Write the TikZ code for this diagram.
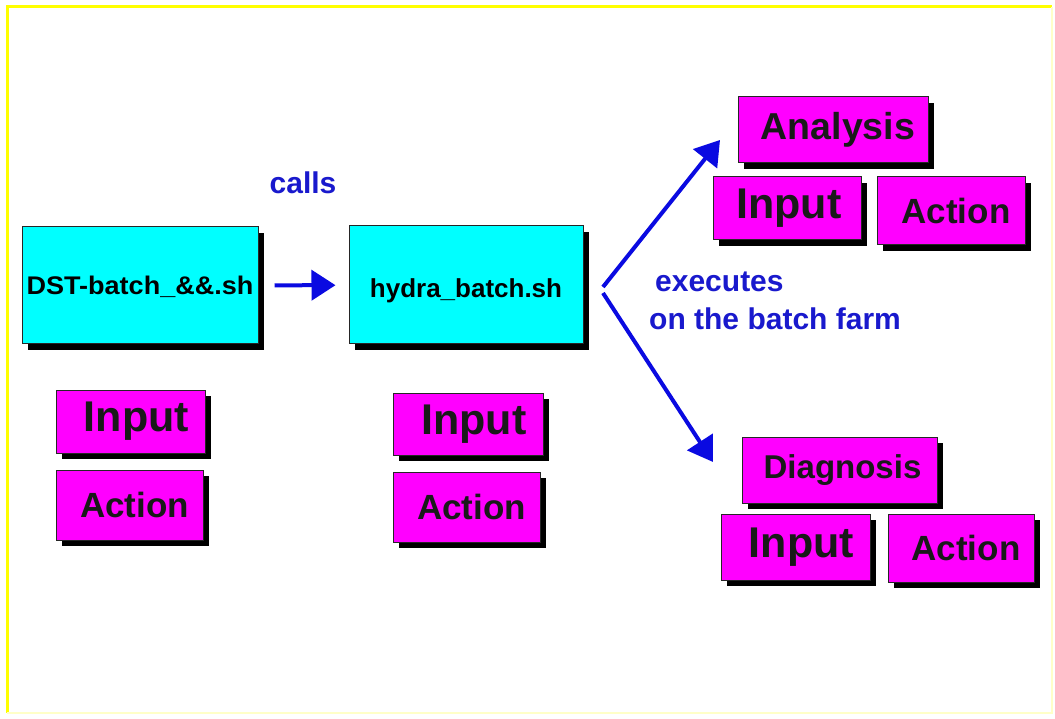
\documentclass[tikz,border=0pt]{standalone}
\usepackage{fontspec}
\setmainfont{Liberation Sans}
\usepackage{graphicx}
\usetikzlibrary{arrows.meta,shadows}
\definecolor{cyanbox}{RGB}{0,255,255}
\definecolor{magbox}{RGB}{255,0,255}
\definecolor{bluetxt}{RGB}{25,25,205}
\definecolor{bluearr}{RGB}{10,10,225}
\definecolor{ylw}{RGB}{255,255,0}
\definecolor{paleylw}{RGB}{255,255,200}
\newcommand{\fsz}[1]{\bfseries\fontsize{#1}{#1}\selectfont}
\begin{document}
\begin{tikzpicture}[x=1pt,y=-1pt,
  shadowed/.style={draw=black!85, line width=1pt, inner sep=0pt,
    general shadow={fill=black, shadow xshift=6pt, shadow yshift=-6pt}},
  scriptbox/.style={shadowed, fill=cyanbox, text=black},
  partbox/.style={shadowed, fill=magbox, text=black!90},
  inbox/.style={partbox, font=\fsz{43}},
  actbox/.style={partbox, font=\fsz{35}},
  bluelabel/.style={text=bluetxt, font=\fsz{30}, inner sep=0pt},
  conn/.style={draw=bluearr, line width=4pt, -{Triangle[length=24pt,width=30pt]}}
]
\useasboundingbox (0,0) rectangle (1055,719);
\fill[white] (0,0) rectangle (1055,719);
\draw[ylw, line width=3pt] (7,713) -- (7,7) -- (1052,7);
\draw[paleylw, line width=2pt] (1052,7) -- (1052,713) -- (7,713);

% script boxes
\node[scriptbox, minimum width=236pt, minimum height=117pt, text height=19pt, text depth=0pt] (dst) at (140,285.5)
  {\fsz{25.5}\scalebox{1.06}[1]{DST-batch\_\&\&.sh}};
\node[scriptbox, minimum width=234pt, minimum height=118pt, text height=26pt, text depth=0pt] (hydra) at (466,285)
  {\fsz{26}hydra\_batch.sh};

% left column
\node[inbox, minimum width=149pt, minimum height=63pt] (inL) at (130.5,421.5) {\hspace*{12pt}Input};
\node[actbox, minimum width=147pt, minimum height=70pt] (acL) at (129.5,505) {\hspace*{10pt}Action};
% middle column
\node[inbox, minimum width=150pt, minimum height=62pt] (inM) at (468,424) {\hspace*{12pt}Input};
\node[actbox, minimum width=147pt, minimum height=70pt] (acM) at (466.5,507) {\hspace*{10pt}Action};

% analysis group
\node[partbox, font=\fsz{37.5}, minimum width=190pt, minimum height=66pt] (an) at (833,130) {\hspace*{10pt}Analysis};
\node[inbox, minimum width=148pt, minimum height=63pt] (inTR) at (787,208.5) {\hspace*{4pt}Input};
\node[actbox, minimum width=148pt, minimum height=68pt] (acTR) at (951,211) {\hspace*{10pt}Action};

% diagnosis group
\node[partbox, font=\fsz{33}, minimum width=195pt, minimum height=66pt] (dg) at (839.5,470) {\hspace*{6pt}Diagnosis};
\node[inbox, minimum width=149pt, minimum height=66pt] (inBR) at (795.5,547) {\hspace*{12pt}Input};
\node[actbox, minimum width=146pt, minimum height=68pt] (acBR) at (961,548) {\hspace*{10pt}Action};

% labels
\node[bluelabel, anchor=base] (calls) at (303,194) {calls};
\node[bluelabel, anchor=base west] (exec1) at (655,292) {executes};
\node[bluelabel, anchor=base west] (exec2) at (649,330) {on the batch farm};

% connectors
\draw[conn, shorten <=16pt, shorten >=13pt] (dst) -- (hydra);
\coordinate (forkA) at (603,287);
\coordinate (tipA) at (720,140);
\coordinate (forkB) at (603,293);
\coordinate (tipB) at (713,462);
\draw[conn] (forkA) -- (tipA);
\draw[conn] (forkB) -- (tipB);
\end{tikzpicture}
\end{document}
